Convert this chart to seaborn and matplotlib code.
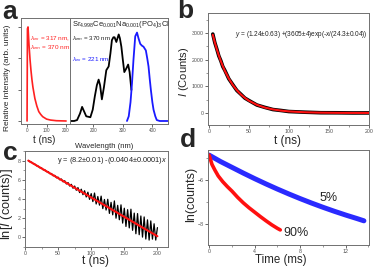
import numpy as np
import matplotlib
matplotlib.use("Agg")
import matplotlib.pyplot as plt
import seaborn as sns
from matplotlib.ticker import AutoMinorLocator, NullFormatter

# ---- data ----
# panel a, left: luminescence decay (t in ns)
a_decay_t = [0, 2, 5, 10, 15, 20, 25, 30, 40, 50, 60, 70, 80, 100, 120, 150, 200]
a_decay_I = [0.0, 0.98, 1.0, 0.81, 0.66, 0.54, 0.44, 0.36, 0.24, 0.16, 0.10, 0.07,
             0.046, 0.02, 0.01, 0.003, 0.0]
# panel a, right: excitation (black) and emission (blue) spectra
exc_wl = [124, 135, 145, 155, 162, 169, 176, 190, 198, 205, 212, 218, 223, 229, 236,
          244, 252, 258, 263, 268, 272, 278, 282, 286, 290, 295, 300, 305, 312, 318,
          323, 329]
exc_I = [0.0, 0.0, 0.01, 0.08, 0.15, 0.10, 0.05, 0.04, 0.12, 0.26, 0.38, 0.44, 0.38,
         0.23, 0.36, 0.54, 0.58, 0.72, 0.86, 0.89, 0.89, 0.84, 0.88, 0.92, 0.88, 0.79,
         0.65, 0.52, 0.56, 0.60, 0.52, 0.33]
em_wl = [314, 320, 326, 331, 336, 342, 348, 353, 359, 365, 370, 378, 383, 387, 391,
         395, 400, 404, 410, 415, 425, 440, 452]
em_I = [0.0, 0.05, 0.20, 0.40, 0.65, 0.90, 0.94, 0.88, 0.82, 0.80, 0.79, 0.75, 0.66,
        0.58, 0.45, 0.33, 0.20, 0.12, 0.05, 0.01, 0.0, 0.0, 0.0]

# panel b: decay counts and exponential fit
b_t = [5, 7.5, 10, 12.5, 15, 17.5, 20, 25, 30, 35, 40, 45, 50, 60, 70, 80, 90, 100,
       120, 140, 160, 180, 200]
b_counts = [2960, 2640, 2400, 2140, 1960, 1740, 1600, 1280, 1060, 845, 705, 560, 470,
            300, 210, 130, 95, 55, 30, 10, 8, 2, 3]
b_fit = [2935, 2649, 2390, 2157, 1946, 1756, 1584, 1290, 1050, 855, 696, 567, 462,
         306, 203, 135, 90, 60, 27, 12, 6, 3, 2]

# panel c: ln(counts) vs t, with linear fit
c_t = np.arange(5, 200.1, 2.5)
c_lnI = [8.02, 7.87, 7.83, 7.68, 7.63, 7.46, 7.42, 7.25, 7.23, 7.04,
         7.04, 6.85, 6.85, 6.64, 6.65, 6.42, 6.46, 6.21, 6.27, 6.00,
         6.08, 5.79, 5.90, 5.57, 5.71, 5.35, 5.53, 5.12, 5.35, 4.91,
         5.19, 4.67, 5.02, 4.45, 4.86, 4.21, 4.71, 3.96, 4.56, 3.73,
         4.62, 3.48, 4.26, 3.36, 4.30, 3.00, 3.95, 2.85, 3.97, 2.50,
         3.65, 2.35, 3.80, 2.00, 3.34, 1.84, 3.39, 1.49, 3.04, 1.14,
         2.89, 0.99, 2.94, 0.74, 2.53, 0.38, 2.48, 0.28, 2.23, 0.03,
         2.13, -0.17, 1.83, -0.28, 1.72, -0.18, 1.42, -0.28, 1.02]
c_fit_t = [5, 200]
c_fit = [7.998, 0.12]

# panel d: ln(counts) vs time (ms) for two concentrations
d_t5 = [0, 1, 2, 3, 4, 5, 6, 7, 8, 9, 10, 11, 12, 13, 13.6]
d_ln5 = [-4.88, -5.17, -5.43, -5.69, -5.94, -6.18, -6.41, -6.63, -6.84, -7.04,
         -7.23, -7.41, -7.58, -7.74, -7.84]
d_t90 = [0, 0.1, 0.25, 0.5, 0.8, 1.2, 1.6, 2.0, 2.5, 3.0, 3.5, 4.0, 4.5, 5.0, 5.5,
         6.0, 6.25]
d_ln90 = [-4.88, -5.05, -5.30, -5.55, -5.82, -6.08, -6.30, -6.50, -6.78, -7.03,
          -7.25, -7.45, -7.65, -7.84, -8.02, -8.18, -8.25]

sns.set_style("ticks")
plt.rcParams['font.family'] = ['Liberation Sans', 'DejaVu Sans']
plt.rcParams['mathtext.fontset'] = 'custom'
plt.rcParams['mathtext.rm'] = 'Liberation Sans'
plt.rcParams['mathtext.it'] = 'Liberation Sans:italic'
plt.rcParams['mathtext.bf'] = 'Liberation Sans:bold'

W, H = 375, 270
fig = plt.figure(figsize=(3.75, 2.7), dpi=100)


def box(x0, y0, x1, y1):
    return fig.add_axes([x0 / W, 1 - y1 / H, (x1 - x0) / W, (y1 - y0) / H])


def ptext(x, y, s, **kw):
    kw.setdefault('ha', 'center')
    kw.setdefault('va', 'center')
    fig.text(x / W, 1 - y / H, s, **kw)


def frame(ax, fs=3.8):
    for s in ax.spines.values():
        s.set_color('#707070')
        s.set_linewidth(0.7)
    ax.tick_params(which='major', colors='#505050', labelsize=fs, length=2,
                   width=0.6, pad=1.0)
    ax.tick_params(which='minor', colors='#707070', length=1.2, width=0.5)


def line(ax, x, y, color, lw):
    sns.lineplot(x=x, y=y, ax=ax, color=color, linewidth=lw,
                 estimator=None, sort=False)


# ---- panel a ----
ax_a1 = box(21, 18, 70, 124)
line(ax_a1, a_decay_t, a_decay_I, '#ff2020', 1.2)
ax_a1.set_xlim(-31, 220)
ax_a1.set_ylim(-0.032, 1.095)
ax_a1.set_xticks([0, 100, 200])
ax_a1.set_yticks([0, 0.333, 0.667, 1.0])
ax_a1.yaxis.set_major_formatter(NullFormatter())
frame(ax_a1, 3.3)

ax_a2 = box(70, 18, 168, 124)
line(ax_a2, exc_wl, exc_I, 'black', 1.3)
line(ax_a2, em_wl, em_I, '#1a1aff', 1.3)
ax_a2.set_xlim(121, 453)
ax_a2.set_ylim(-0.032, 1.095)
ax_a2.set_xticks([200, 300, 400])
ax_a2.set_yticks([])
frame(ax_a2, 3.3)

ptext(30, 39, r'$\lambda_{ex}$ = 317 nm,', color='#ff2020', fontsize=4.6, ha='left')
ptext(30, 48, r'$\lambda_{em}$ = 370 nm', color='#ff2020', fontsize=4.6, ha='left')
ptext(72, 25, r'Sr$_{4.998}$Ce$_{0.001}$Na$_{0.001}$(PO$_4$)$_3$Cl', fontsize=5.4,
      ha='left', color='#222222')
ptext(72, 39, r'$\lambda_{em}$ = 370 nm', color='#222222', fontsize=4.5, ha='left')
ptext(72, 60, r'$\lambda_{ex}$ = 221 nm', color='#1a1aff', fontsize=4.5, ha='left')
ptext(7.5, 78, 'Relative intensity (arb. units)', fontsize=6.0, rotation=90)
ptext(44, 140, 't (ns)', fontsize=7)
ptext(104, 146, 'Wavelength (nm)', fontsize=5.5)

# ---- panel b ----
ax_b = box(208, 13, 369, 125)
line(ax_b, b_t, b_counts, 'black', 2.6)
line(ax_b, b_t, b_fit, '#ff1010', 1.5)
ax_b.set_xlim(-1, 200)
ax_b.set_ylim(-450, 3750)
ax_b.set_xticks([0, 50, 100, 150, 200])
ax_b.set_yticks([0, 1000, 2000, 3000])
ax_b.xaxis.set_minor_locator(AutoMinorLocator(2))
ax_b.yaxis.set_minor_locator(AutoMinorLocator(2))
frame(ax_b)
ptext(235, 35, r'$y$ = (1.24±0.63) +(3605±4)exp(-$x$/(24.3±0.04))', fontsize=4.7,
      ha='left', color='#222222')
ptext(184, 72, r'$I$ (Counts)', fontsize=8, rotation=90)
ptext(288, 141, 't (ns)', fontsize=8.5)

# ---- panel c ----
ax_c = box(25, 151, 168, 247)
line(ax_c, c_t, c_lnI, 'black', 0.9)
line(ax_c, c_fit_t, c_fit, '#ff1010', 1.5)
ax_c.set_xlim(0, 216)
ax_c.set_ylim(-1, 9)
ax_c.set_xticks([0, 50, 100, 150, 200])
ax_c.set_yticks([0, 2, 4, 6, 8])
ax_c.xaxis.set_minor_locator(AutoMinorLocator(2))
ax_c.yaxis.set_minor_locator(AutoMinorLocator(2))
frame(ax_c)
ptext(57, 160, r'y = (8.2±0.01) -(0.0404±0.0001)$x$', fontsize=5.3, ha='left',
      color='#222222')
ptext(7.5, 204, r'ln[$I$ (counts)]', fontsize=9.3, rotation=90)
ptext(96, 261, 't (ns)', fontsize=8.5)

# ---- panel d ----
ax_d = box(208, 150, 369, 245)
line(ax_d, d_t5, d_ln5, '#2a2aff', 3.6)
line(ax_d, d_t90, d_ln90, '#ff1010', 2.6)
ax_d.set_xlim(-0.1, 14.05)
ax_d.set_ylim(-8.93, -4.65)
ax_d.set_xticks([0, 4, 8, 12])
ax_d.set_yticks([-8, -6])
ax_d.xaxis.set_minor_locator(AutoMinorLocator(2))
ax_d.yaxis.set_minor_locator(AutoMinorLocator(2))
frame(ax_d)
ptext(329, 198, '5%', fontsize=9)
ptext(296, 233, '90%', fontsize=9)
ptext(191, 194, 'ln(counts)', fontsize=9, rotation=90)
ptext(281, 260, 'Time (ms)', fontsize=8.3)

for ax in (ax_a1, ax_a2, ax_b, ax_c, ax_d):
    ax.set_xlabel('')
    ax.set_ylabel('')

# panel letters
for x, y, s in [(2, 19, 'a'), (177, 18, 'b'), (3, 160, 'c'), (180, 147, 'd')]:
    ptext(x, y, s, fontsize=19, fontweight='bold', ha='left', va='baseline')

fig.savefig('out.png', dpi=100)
